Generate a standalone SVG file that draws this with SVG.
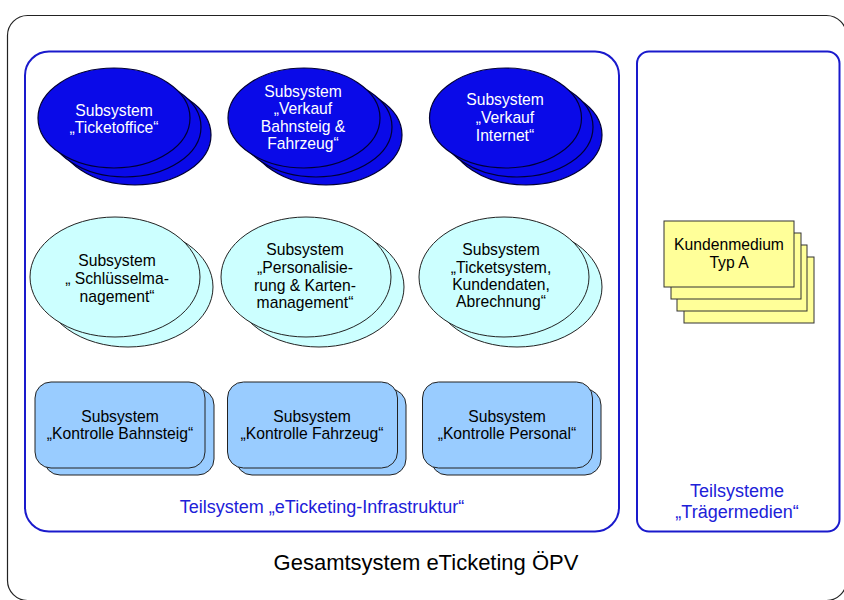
<svg xmlns="http://www.w3.org/2000/svg" width="844" height="600" viewBox="0 0 844 600">
<style>
text{font-family:"Liberation Sans",Arial,sans-serif;text-anchor:middle}
.t{font-size:15.7px;fill:#000}
.w{font-size:15.7px;fill:#fff}
.lbl{font-size:18px;fill:#2020d8}
.big{font-size:22px;fill:#000}
.e1{fill:#0a0ae8;stroke:#000033;stroke-width:1.2}
.e2{fill:#ccffff;stroke:#222;stroke-width:1}
.r3{fill:#99ccff;stroke:#222;stroke-width:1}
.card{fill:#ffff99;stroke:#333;stroke-width:1}
.frame{fill:none;stroke:#1a1acc;stroke-width:2}
</style>
<rect id="gesamt" x="7.5" y="15.5" width="839" height="585" rx="20" fill="#fff" stroke="#222" stroke-width="1.2"/>
<g id="infrastruktur">
<rect class="frame" x="25" y="51.5" width="594" height="480" rx="24"/>
<text class="lbl" x="322" y="513">Teilsystem „eTicketing-Infrastruktur“</text>
</g>
<g id="traegermedien">
<rect class="frame" x="637" y="51.5" width="202.5" height="480" rx="12"/>
<text class="lbl" x="737" y="497">Teilsysteme</text>
<text class="lbl" x="737" y="518">„Trägermedien“</text>
</g>
<g id="ticketoffice">
<ellipse class="e1" cx="135" cy="135" rx="76" ry="50"/>
<ellipse class="e1" cx="125" cy="127" rx="76" ry="50"/>
<ellipse class="e1" cx="114" cy="118" rx="76" ry="50"/>
<text class="w" x="114" y="116">Subsystem</text>
<text class="w" x="114" y="133">„Ticketoffice“</text>
</g>
<g id="verkauf-bahnsteig">
<ellipse class="e1" cx="326" cy="135" rx="76" ry="50"/>
<ellipse class="e1" cx="316" cy="127" rx="76" ry="50"/>
<ellipse class="e1" cx="304" cy="118" rx="76" ry="50"/>
<text class="w" x="303" y="97">Subsystem</text>
<text class="w" x="303" y="114">„Verkauf</text>
<text class="w" x="303" y="132">Bahnsteig &amp;</text>
<text class="w" x="303" y="149">Fahrzeug“</text>
</g>
<g id="verkauf-internet">
<ellipse class="e1" cx="526" cy="135" rx="76" ry="50"/>
<ellipse class="e1" cx="517" cy="127" rx="76" ry="50"/>
<ellipse class="e1" cx="505.5" cy="118" rx="76" ry="50"/>
<text class="w" x="505" y="105">Subsystem</text>
<text class="w" x="505" y="123">„Verkauf</text>
<text class="w" x="505" y="141">Internet“</text>
</g>
<g id="schluessel">
<ellipse class="e2" cx="128" cy="287" rx="85" ry="60"/>
<ellipse class="e2" cx="115" cy="277" rx="85" ry="60"/>
<text class="t" x="117" y="266">Subsystem</text>
<text class="t" x="117" y="284">„ Schlüsselma-</text>
<text class="t" x="117" y="302">nagement“</text>
</g>
<g id="personalisierung">
<ellipse class="e2" cx="319" cy="287" rx="85" ry="60"/>
<ellipse class="e2" cx="306" cy="277" rx="85" ry="60"/>
<text class="t" x="305" y="255">Subsystem</text>
<text class="t" x="305" y="273">„Personalisie-</text>
<text class="t" x="305" y="291">rung &amp; Karten-</text>
<text class="t" x="305" y="308">management“</text>
</g>
<g id="ticketsystem">
<ellipse class="e2" cx="517" cy="287" rx="85" ry="60"/>
<ellipse class="e2" cx="504" cy="277" rx="85" ry="60"/>
<text class="t" x="501" y="255">Subsystem</text>
<text class="t" x="501" y="273">„Ticketsystem,</text>
<text class="t" x="501" y="290">Kundendaten,</text>
<text class="t" x="501" y="307">Abrechnung“</text>
</g>
<g id="kontrolle-bahnsteig">
<rect class="r3" x="44" y="389" width="170" height="86" rx="16"/>
<rect class="r3" x="35" y="382" width="170" height="86" rx="16"/>
<text class="t" x="120" y="422">Subsystem</text>
<text class="t" x="120" y="439">„Kontrolle Bahnsteig“</text>
</g>
<g id="kontrolle-fahrzeug">
<rect class="r3" x="236" y="389" width="170" height="86" rx="16"/>
<rect class="r3" x="227.5" y="382" width="170" height="86" rx="16"/>
<text class="t" x="312" y="422">Subsystem</text>
<text class="t" x="312" y="439">„Kontrolle Fahrzeug“</text>
</g>
<g id="kontrolle-personal">
<rect class="r3" x="431" y="389" width="170" height="86" rx="16"/>
<rect class="r3" x="422.5" y="382" width="170" height="86" rx="16"/>
<text class="t" x="507" y="422">Subsystem</text>
<text class="t" x="507" y="439">„Kontrolle Personal“</text>
</g>
<g id="kundenmedium">
<rect class="card" x="684" y="257" width="130" height="66"/>
<rect class="card" x="677" y="245" width="130" height="66"/>
<rect class="card" x="671" y="233" width="130" height="66"/>
<rect class="card" x="664" y="221" width="130" height="66"/>
<text class="t" x="729" y="250">Kundenmedium</text>
<text class="t" x="729" y="268">Typ A</text>
</g>
<g id="connectors"></g>
<text class="big" x="426" y="570">Gesamtsystem eTicketing ÖPV</text>
</svg>
